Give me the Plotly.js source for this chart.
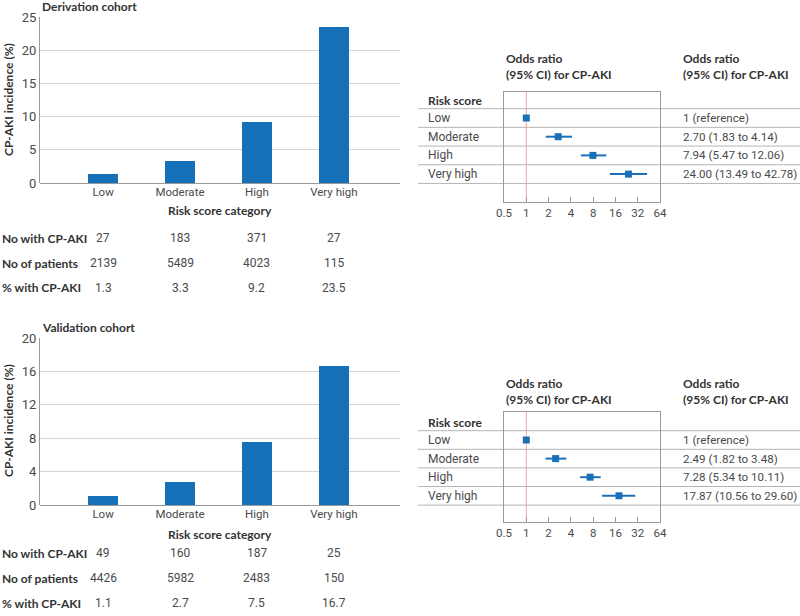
<!DOCTYPE html>
<html>
<head>
<meta charset="utf-8">
<script src="https://cdn.plot.ly/plotly-3.0.1.min.js"></script>
<style>html,body{margin:0;padding:0;background:#fff;}#chart{width:800px;height:616px;}</style>
</head>
<body>
<div id="chart"></div>
<script>
// ---------- data ----------
const categories = ['Low', 'Moderate', 'High', 'Very high'];
const tableRowLabels = ['No with CP-AKI', 'No of patients', '% with CP-AKI'];

const derivIncidence = [1.3, 3.3, 9.2, 23.5];
const derivCases = [27, 183, 371, 27];
const derivPatients = [2139, 5489, 4023, 115];

const validIncidence = [1.1, 2.7, 7.5, 16.7];
const validCases = [49, 160, 187, 25];
const validPatients = [4426, 5982, 2483, 150];

const derivOR = [1, 2.70, 7.94, 24.00];
const derivLo = [null, 1.83, 5.47, 13.49];
const derivHi = [null, 4.14, 12.06, 42.78];

const validOR = [1, 2.49, 7.28, 17.87];
const validLo = [null, 1.82, 5.34, 10.56];
const validHi = [null, 3.48, 10.11, 29.60];

const orTicks = [0.5, 1, 2, 4, 8, 16, 32, 64];
const orTickText = ['0.5', '1', '2', '4', '8', '16', '32', '64'];

// ---------- style ----------
const BOLDFONT = "Lato, 'Open Sans', sans-serif";
const FONT = "Roboto, 'Open Sans', sans-serif";
const BAR = '#1670b7';
const DOT = '#1a70b8';
const DARK = '#333333';
const MID = '#4a4a4a';
const H = 616;
const py = p => 1 - p / H;

const rowIdx = categories.map((c, i) => i);

function orLabel(or, lo, hi) {
  if (lo == null) return '1 (reference)';
  return or.toFixed(2) + ' (' + lo.toFixed(2) + ' to ' + hi.toFixed(2) + ')';
}

const traces = [
  {type: 'bar', x: categories, y: derivIncidence, xaxis: 'x', yaxis: 'y',
   marker: {color: BAR}, width: 0.39, hoverinfo: 'x+y'},
  {type: 'bar', x: categories, y: validIncidence, xaxis: 'x2', yaxis: 'y2',
   marker: {color: BAR}, width: 0.39, hoverinfo: 'x+y'},
  {type: 'scatter', mode: 'markers', x: derivOR, y: rowIdx, xaxis: 'x3', yaxis: 'y3',
   marker: {symbol: 'square', size: 7, color: DOT},
   error_x: {type: 'data', symmetric: false,
     array: derivOR.map((v, i) => derivHi[i] == null ? 0 : derivHi[i] - v),
     arrayminus: derivOR.map((v, i) => derivLo[i] == null ? 0 : v - derivLo[i]),
     thickness: 2, width: 0, color: DOT}},
  {type: 'scatter', mode: 'markers', x: validOR, y: rowIdx, xaxis: 'x4', yaxis: 'y4',
   marker: {symbol: 'square', size: 7, color: DOT},
   error_x: {type: 'data', symmetric: false,
     array: validOR.map((v, i) => validHi[i] == null ? 0 : validHi[i] - v),
     arrayminus: validOR.map((v, i) => validLo[i] == null ? 0 : v - validLo[i]),
     thickness: 2, width: 0, color: DOT}}
];

const barX = (dom, anchor) => ({
  domain: dom, anchor: anchor, type: 'category', range: [-0.82, 3.86],
  showline: false, showgrid: false, zeroline: false, ticks: '',
  tickfont: {family: FONT, size: 11.5, color: MID}, fixedrange: true
});
const barY = (dom, anchor, max, dt) => ({
  domain: dom, anchor: anchor, range: [0, max], dtick: dt,
  showline: true, linecolor: '#9a9a9a', linewidth: 1,
  gridcolor: '#d4d4d4', zeroline: true, zerolinecolor: '#9a9a9a',
  ticks: '', tickfont: {family: FONT, size: 13, color: MID}, fixedrange: true
});
const forX = (dom, anchor) => ({
  domain: dom, anchor: anchor, type: 'log', range: [Math.log10(0.5), Math.log10(64)],
  tickvals: orTicks, ticktext: orTickText, ticks: 'inside', ticklen: 5,
  tickcolor: '#9a9a9a', showline: true, mirror: true, linecolor: '#9a9a9a',
  showgrid: false, zeroline: false, tickfont: {family: FONT, size: 11.5, color: MID},
  fixedrange: true
});
const forY = (dom, anchor, range) => ({
  domain: dom, anchor: anchor, range: range, showline: true, mirror: true,
  linecolor: '#9a9a9a', showticklabels: false, showgrid: false, zeroline: false,
  ticks: '', fixedrange: true
});

const annotations = [];
const shapes = [];

function addBarPanel(xref, title, titleY, axisMid, catTitleY, rowYs, cases, patients, incid) {
  annotations.push({xref: 'paper', yref: 'paper', x: 0.05, y: py(titleY), xanchor: 'left', yanchor: 'middle',
    text: '<b>' + title + '</b>', showarrow: false, font: {family: BOLDFONT, size: 12, color: DARK}});
  annotations.push({xref: 'paper', yref: 'paper', x: 8 / 800, y: py(axisMid), xanchor: 'center', yanchor: 'middle',
    text: '<b>CP-AKI incidence (%)</b>', textangle: -90, showarrow: false, font: {family: BOLDFONT, size: 12, color: DARK}});
  annotations.push({xref: 'paper', yref: 'paper', x: 0.275, y: py(catTitleY), xanchor: 'center', yanchor: 'middle',
    text: '<b>Risk score category</b>', showarrow: false, font: {family: BOLDFONT, size: 12, color: DARK}});
  const rows = [cases.map(String), patients.map(String), incid.map(v => v.toFixed(1))];
  rows.forEach((vals, r) => {
    annotations.push({xref: 'paper', yref: 'paper', x: 0, y: py(rowYs[r]), xanchor: 'left', yanchor: 'middle',
      text: '<b>' + tableRowLabels[r] + '</b>', showarrow: false, font: {family: BOLDFONT, size: 12, color: DARK}});
    vals.forEach((v, i) => {
      annotations.push({xref: xref, yref: 'paper', x: categories[i], y: py(rowYs[r]), xanchor: 'center', yanchor: 'middle',
        text: v, showarrow: false, font: {family: FONT, size: 12, color: MID}});
    });
  });
}

function addForestPanel(xref, yref, headY, or, lo, hi) {
  const hdr = '<b>Odds ratio<br>(95% CI) for CP-AKI</b>';
  annotations.push({xref: 'paper', yref: 'paper', x: 504 / 800, y: py(headY), xanchor: 'left', yanchor: 'middle',
    text: hdr, align: 'left', showarrow: false, font: {family: BOLDFONT, size: 12, color: DARK}});
  annotations.push({xref: 'paper', yref: 'paper', x: 681 / 800, y: py(headY), xanchor: 'left', yanchor: 'middle',
    text: hdr, align: 'left', showarrow: false, font: {family: BOLDFONT, size: 12, color: DARK}});
  annotations.push({xref: 'paper', yref: yref, x: 426 / 800, y: -0.92, xanchor: 'left', yanchor: 'middle',
    text: '<b>Risk score</b>', showarrow: false, font: {family: BOLDFONT, size: 12, color: DARK}});
  categories.forEach((c, i) => {
    annotations.push({xref: 'paper', yref: yref, x: 426 / 800, y: i, xanchor: 'left', yanchor: 'middle',
      text: c, showarrow: false, font: {family: FONT, size: 12, color: MID}});
    annotations.push({xref: 'paper', yref: yref, x: 681 / 800, y: i, xanchor: 'left', yanchor: 'middle',
      text: orLabel(or[i], lo[i], hi[i]), showarrow: false, font: {family: FONT, size: 11.6, color: MID}});
  });
  [-0.5, 0.5, 1.5, 2.5, 3.5].forEach(yv => {
    shapes.push({type: 'line', xref: 'paper', yref: yref, x0: 418 / 800, x1: 1, y0: yv, y1: yv,
      line: {color: '#b5b5b5', width: 1}, layer: 'below'});
  });
  shapes.push({type: 'line', xref: xref, yref: yref + ' domain', x0: 1, x1: 1, y0: 0, y1: 1,
    line: {color: '#f3a0a0', width: 1}, layer: 'below'});
}

addBarPanel('x', 'Derivation cohort', 7, 100, 211, [238, 263, 288], derivCases, derivPatients, derivIncidence);
addBarPanel('x2', 'Validation cohort', 327, 421, 534, [553, 578, 603], validCases, validPatients, validIncidence);
addForestPanel('x3', 'y3', 67, derivOR, derivLo, derivHi);
addForestPanel('x4', 'y4', 391, validOR, validLo, validHi);

const layout = {
  width: 800, height: 616,
  margin: {l: 0, r: 0, t: 0, b: 0},
  paper_bgcolor: '#ffffff', plot_bgcolor: 'rgba(0,0,0,0)',
  showlegend: false, bargap: 0,
  font: {family: FONT, size: 12, color: MID},
  xaxis: barX([0.05, 0.5], 'y'),
  yaxis: barY([py(183), py(17)], 'x', 25, 5),
  xaxis2: barX([0.05, 0.5], 'y2'),
  yaxis2: barY([py(505), py(338)], 'x2', 20, 4),
  xaxis3: forX([0.63, 0.825], 'y3'),
  yaxis3: forY([py(202), py(92)], 'x3', [(202 - 118) / 18.7, (92 - 118) / 18.7]),
  xaxis4: forX([0.63, 0.825], 'y4'),
  yaxis4: forY([py(522), py(412)], 'x4', [(522 - 440) / 18.6, (412 - 440) / 18.6]),
  annotations: annotations,
  shapes: shapes
};

Plotly.newPlot('chart', traces, layout, {displayModeBar: false, staticPlot: true});
</script>
</body>
</html>
